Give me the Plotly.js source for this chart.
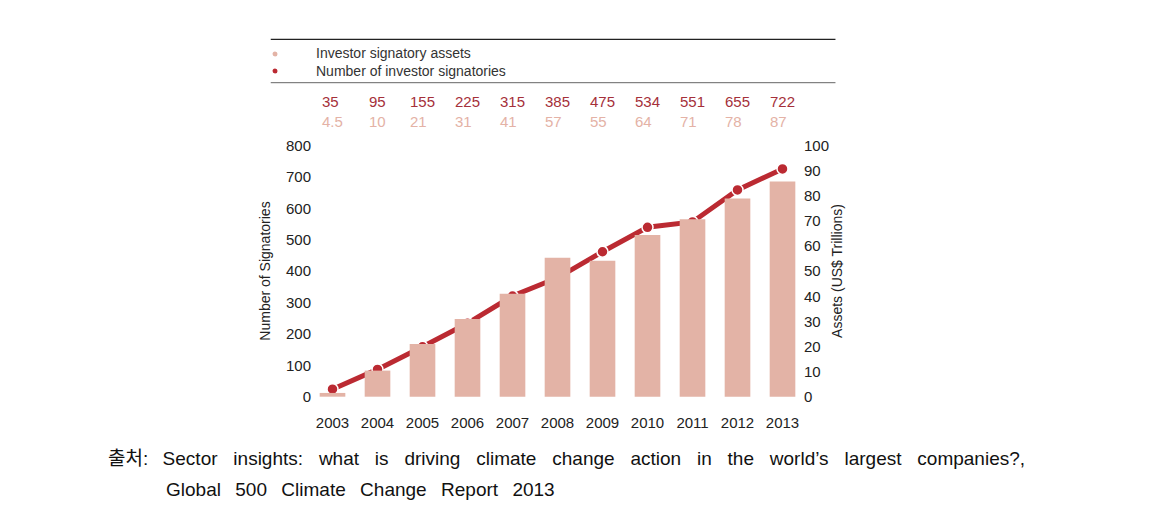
<!DOCTYPE html>
<html>
<head>
<meta charset="utf-8">
<script src="https://cdn.plot.ly/plotly-3.0.1.min.js"></script>
<style>html,body{margin:0;padding:0;background:#fff;}#chart{width:1155px;height:528px;}</style>
</head>
<body>
<div id="chart"></div>
<script>
// ---- data ----
const years = ['2003','2004','2005','2006','2007','2008','2009','2010','2011','2012','2013'];
// bar heights as drawn (US$ trillions, right axis)
const assets = [1.5, 10.4, 21, 31, 41, 55.4, 54.2, 64.4, 70.7, 79, 85.7];
// line points as drawn (number of signatories, left axis)
const signatories = [24, 87, 159, 234, 321, 379, 462, 540, 557, 659, 726];
// printed labels above the chart
const signatoryLabels = ['35','95','155','225','315','385','475','534','551','655','722'];
const assetLabels = ['4.5','10','21','31','41','57','55','64','71','78','87'];
const leftTicks = [0,100,200,300,400,500,600,700,800];
const rightTicks = [0,10,20,30,40,50,60,70,80,90,100];
const legendNames = ['Investor signatory assets','Number of investor signatories'];
const captionSource = '출처';
const captionLine1 = 'Sector insights: what is driving climate change action in the world\u2019s largest companies?,';
const captionLine2 = 'Global 500 Climate Change Report 2013';

// ---- layout helpers ----
const W = 1155, H = 528;
const PL = 310, PR = 805.5, PT = 140, PB = 402;
const px = x => (x - PL) / (PR - PL);
const py = y => (PB - y) / (PB - PT);

const barColor = '#e3b3a6';
const lineColor = '#bb2a32';
const redText = '#a5303a';
const pinkText = '#e4b2a6';
const font = 'Liberation Sans, Arial, sans-serif';

const spaced = (s, gap) => s.split(' ').join(gap);

const annotations = [];
years.forEach((yr, i) => {
  annotations.push({
    x: i, xref: 'x', y: py(111), yref: 'paper',
    text: '<span style="color:' + redText + '">' + signatoryLabels[i] + '</span><br><span style="color:' + pinkText + '">' + assetLabels[i] + '</span>',
    showarrow: false, align: 'left', xanchor: 'center', yanchor: 'middle',
    font: {family: font, size: 15, color: redText}
  });
});
annotations.push({x: px(314), y: py(53.5), xref:'paper', yref:'paper', text: legendNames[0], showarrow:false, xanchor:'left', yanchor:'middle', font:{family:font, size:14, color:'#333'}});
annotations.push({x: px(314), y: py(70.7), xref:'paper', yref:'paper', text: legendNames[1], showarrow:false, xanchor:'left', yanchor:'middle', font:{family:font, size:14, color:'#333'}});
annotations.push({x: px(106), y: py(456.5), xref:'paper', yref:'paper',
  text: '<span style="font-family:Noto Sans CJK KR">' + captionSource + '</span>:\u00A0\u00A0\u2009' + spaced(captionLine1, '\u00A0\u00A0\u00A0'),
  showarrow:false, xanchor:'left', yanchor:'middle', font:{family:font, size:19, color:'#111'}});
annotations.push({x: px(164), y: py(489), xref:'paper', yref:'paper', text: spaced(captionLine2, '\u00A0\u00A0\u2009'), showarrow:false, xanchor:'left', yanchor:'middle', font:{family:font, size:19, color:'#111'}});

const shapes = [
  {type:'line', xref:'paper', yref:'paper', x0:px(270.7), x1:px(836), y0:py(39.3), y1:py(39.3), line:{color:'#222', width:1.3}},
  {type:'line', xref:'paper', yref:'paper', x0:px(270.7), x1:px(836), y0:py(82.7), y1:py(82.7), line:{color:'#666', width:1}},
  {type:'circle', xref:'paper', yref:'paper', x0:px(272.5), x1:px(277.5), y0:py(51.5), y1:py(56.5), fillcolor:barColor, line:{width:0}},
  {type:'circle', xref:'paper', yref:'paper', x0:px(272.5), x1:px(277.5), y0:py(68.5), y1:py(73.5), fillcolor:lineColor, line:{width:0}}
];

const traces = [
  {type:'bar', x: years, y: assets, yaxis:'y2', name: legendNames[0], width: 0.57,
   marker:{color: barColor}, hoverinfo:'none'},
  {type:'scatter', mode:'lines+markers', x: years, y: signatories, yaxis:'y', name: legendNames[1],
   line:{color: lineColor, width: 5}, marker:{color: lineColor, size: 11, line:{color:'#fff', width:1.5}}, hoverinfo:'none'}
];

const layout = {
  width: W, height: H,
  margin: {l: PL, r: W - PR, t: PT, b: H - PB, pad: 0},
  paper_bgcolor: '#fff', plot_bgcolor: '#fff',
  showlegend: false,
  font: {family: font, color: '#222', size: 15},
  xaxis: {type:'category', range:[-0.5, 10.5], showgrid:false, zeroline:false, showline:false,
          ticks:'outside', ticklen:7, tickcolor:'rgba(0,0,0,0)', tickfont:{size:15, color:'#222'}},
  yaxis: {range:[-16.9, 818.2], tickvals: leftTicks, showgrid:false, zeroline:false, showline:false,
          ticks:'', ticklabelstandoff: -2, tickfont:{size:15, color:'#222'},
          title:{text:'Number of Signatories', font:{size:14, color:'#222'}, standoff: 12}},
  yaxis2: {range:[-2.11, 102.27], tickvals: rightTicks, overlaying:'y', side:'right', showgrid:false, zeroline:false, showline:false,
          ticks:'', ticklabelstandoff: -2, tickfont:{size:15, color:'#222'},
          title:{text:'Assets (US$ Trillions)', font:{size:14, color:'#222'}, standoff: 4}},
  annotations: annotations,
  shapes: shapes
};

Plotly.newPlot('chart', traces, layout, {staticPlot: true, displayModeBar: false});
</script>
</body>
</html>
